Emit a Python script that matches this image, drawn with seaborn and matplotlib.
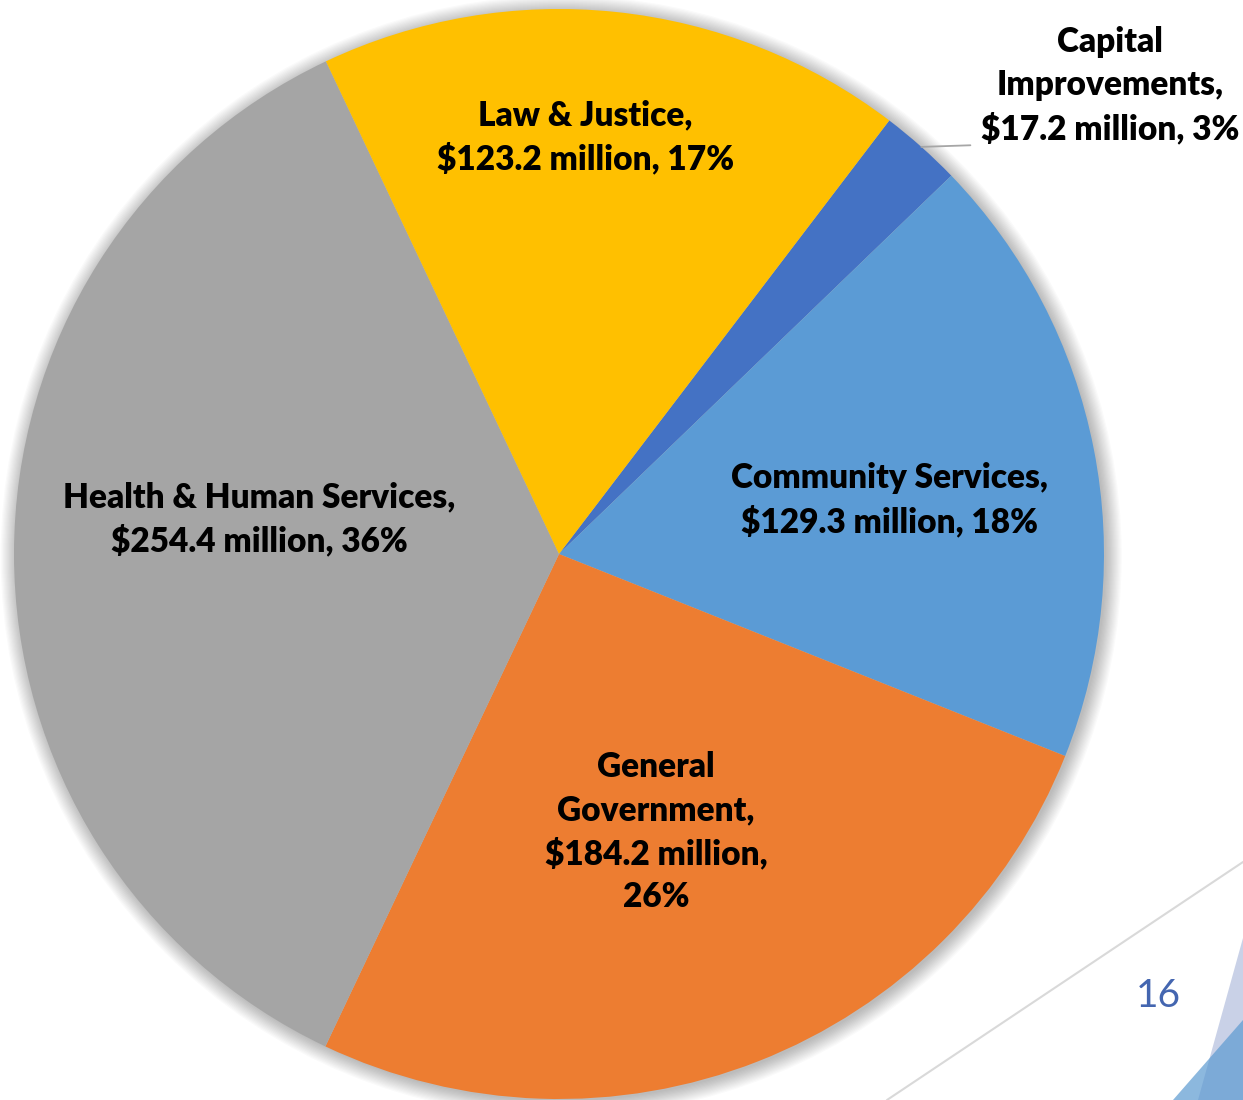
import numpy as np
import matplotlib
matplotlib.use("Agg")
import matplotlib.pyplot as plt
from matplotlib.patches import Circle, Polygon
from matplotlib.lines import Line2D
import seaborn as sns

# ---- data ----
categories = ["Capital Improvements", "Community Services", "General Government",
              "Health & Human Services", "Law & Justice"]
amounts_musd = [17.2, 129.3, 184.2, 254.4, 123.2]
percent_labels = ["3%", "18%", "26%", "36%", "17%"]
label_lines = [
    ["Capital", "Improvements,", "$17.2 million, 3%"],
    ["Community Services,", "$129.3 million, 18%"],
    ["General", "Government,", "$184.2 million,", "26%"],
    ["Health & Human Services,", "$254.4 million, 36%"],
    ["Law & Justice,", "$123.2 million, 17%"],
]
colors = ["#4472C4", "#5B9BD5", "#ED7D31", "#A5A5A5", "#FFC000"]

# ---- layout (radius units) ----
label_xy = [(1.011, 0.859), (0.607, 0.099), (0.178, -0.510), (-0.550, 0.064), (0.048, 0.765)]
W, H = 1243, 1100
cx, cy, R = 559, 554, 545

sns.set_theme(style="white")
plt.rcParams["font.family"] = ["Lato", "DejaVu Sans"]

fig = plt.figure(figsize=(W / 100, H / 100), dpi=100)
fig.patch.set_facecolor("white")
ax = fig.add_axes([0, 0, 1, 1])

# soft drop shadow behind the pie
for k in range(14):
    ax.add_patch(Circle((0.004, -0.004), 1.0 + k * 0.0022, facecolor="#000000",
                        alpha=0.018, edgecolor="none", zorder=0))

wedges, _ = ax.pie(amounts_musd, colors=colors, startangle=52.7, counterclock=False,
                   radius=1.0, center=(0, 0), frame=True,
                   wedgeprops=dict(linewidth=0, edgecolor="none"))
for w in wedges:
    w.set_zorder(2)
ax.set_xlim(-cx / R, (W - cx) / R)
ax.set_ylim((cy - H) / R, cy / R)
ax.set_aspect("equal")
ax.axis("off")

for i, (lines, (lx, ly)) in enumerate(zip(label_lines, label_xy)):
    ax.text(lx, ly, "\n".join(lines), ha="center", va="center", fontsize=24,
            fontweight="heavy", color="black", linespacing=1.42, zorder=5)

# leader line for the small slice
w0 = wedges[0]
mid = np.deg2rad((w0.theta1 + w0.theta2) / 2)
ex, ey = np.cos(mid), np.sin(mid)
ax.add_line(Line2D([ex, ex + 0.09], [ey, ey + 0.003], color="#A6A6A6", lw=1.3, zorder=4))

# slide decoration in the lower right corner
def fp(px, py):
    return (px / W, 1 - py / H)

fig.add_artist(Line2D([fp(887, 1100)[0], fp(1243, 862)[0]],
                      [fp(887, 1100)[1], fp(1243, 862)[1]],
                      transform=fig.transFigure, color="#D9D9D9", lw=1.5))
fig.add_artist(Polygon([fp(1243, 938), fp(1198, 1100), fp(1243, 1100)], closed=True,
                       transform=fig.transFigure, facecolor="#C9D1E7", edgecolor="none"))
fig.add_artist(Polygon([fp(1243, 1020), fp(1173, 1100), fp(1243, 1100)], closed=True,
                       transform=fig.transFigure, facecolor="#5C9AD1", alpha=0.7,
                       edgecolor="none"))
fig.text(*fp(1158, 996), "16", ha="center", va="center", fontsize=28,
         color="#4466B0", family=["Lato", "DejaVu Sans"])

fig.savefig("out.png", dpi=100, facecolor="white")
